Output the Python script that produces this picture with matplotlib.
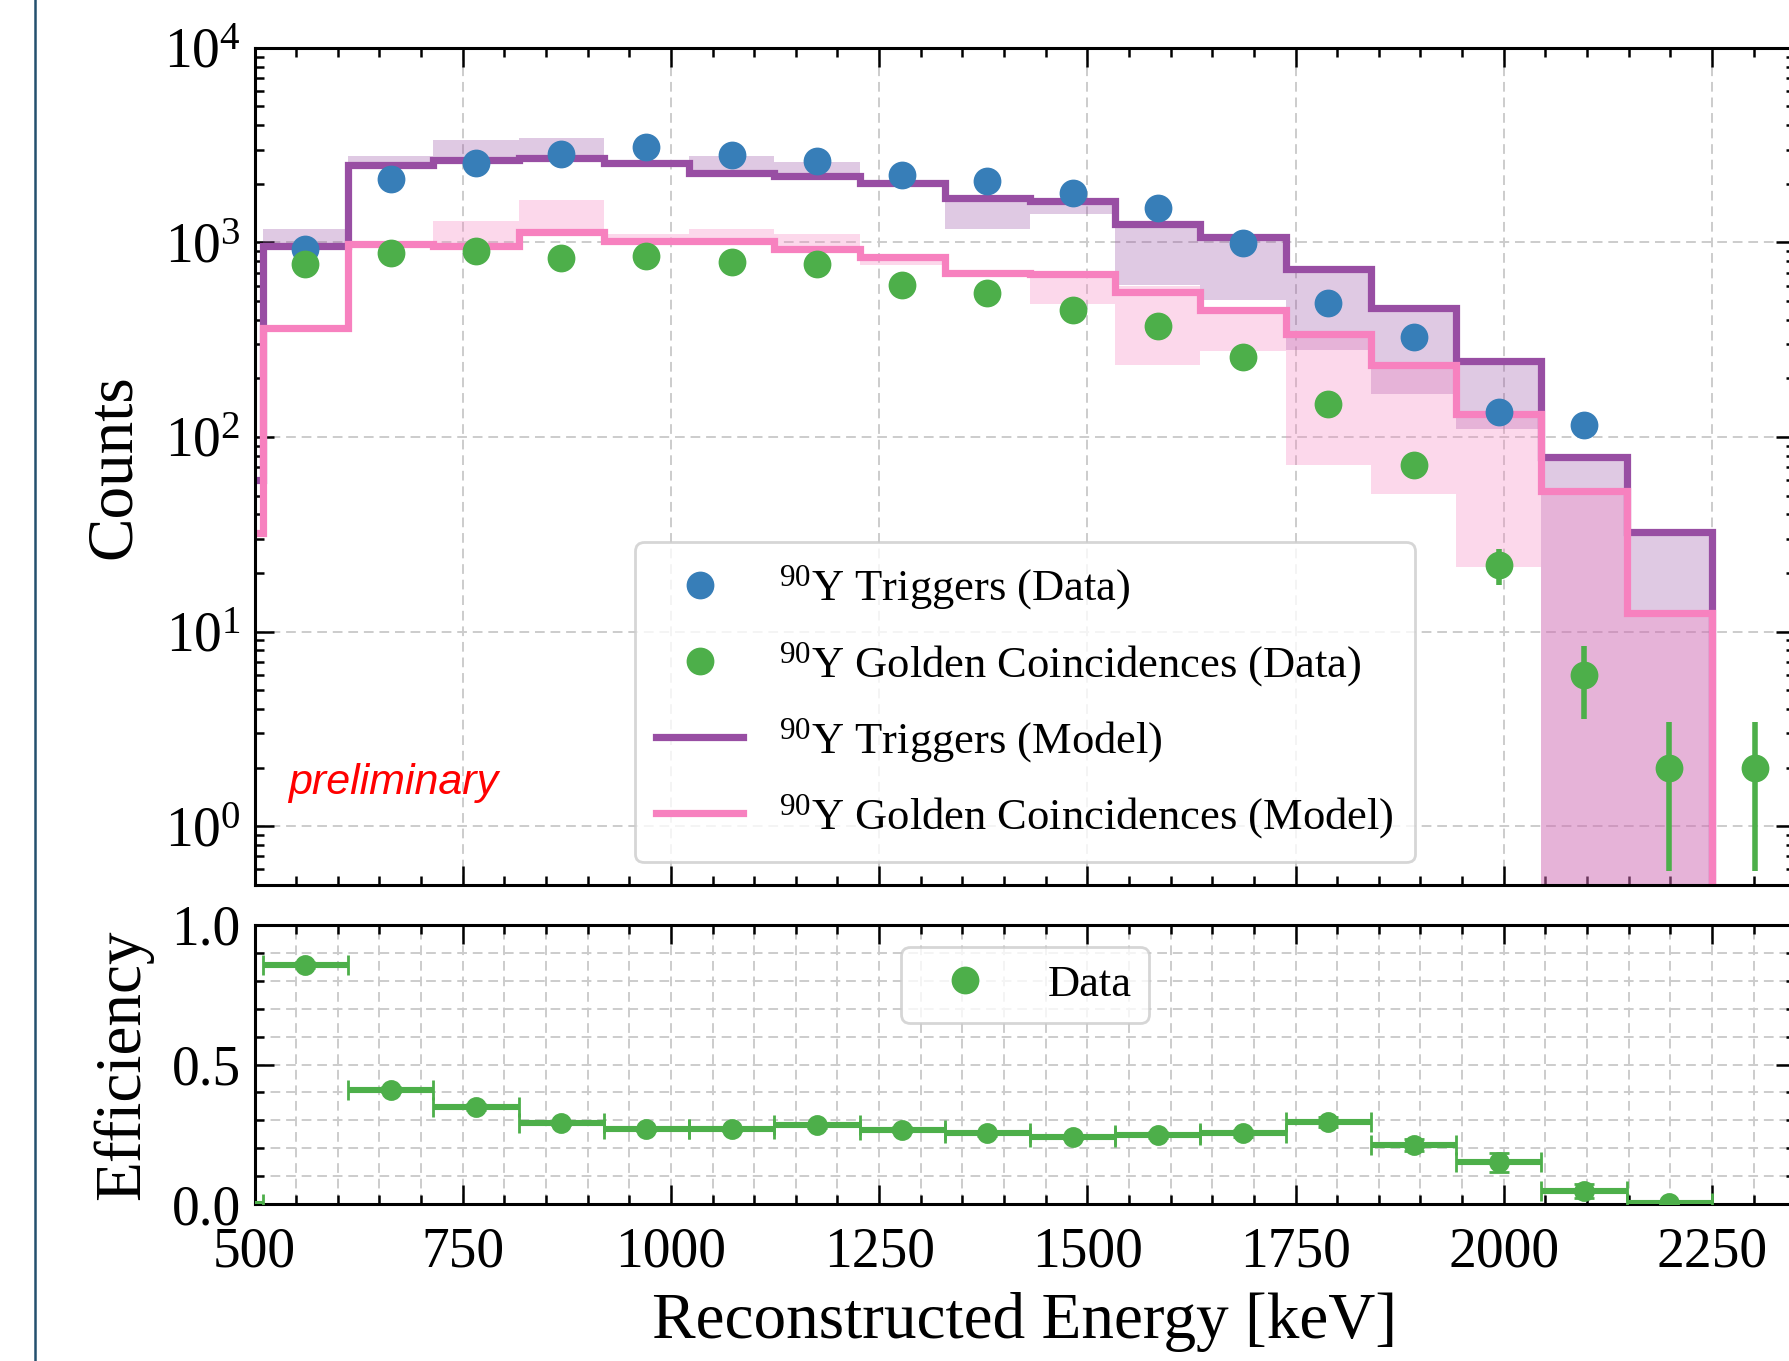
import numpy as np
import matplotlib
matplotlib.use("Agg")
import matplotlib.pyplot as plt
from matplotlib.lines import Line2D
from matplotlib.ticker import MultipleLocator, LogLocator, NullFormatter, FormatStrFormatter

plt.rcParams['font.family'] = ['Liberation Serif', 'DejaVu Serif']
plt.rcParams['mathtext.fontset'] = 'custom'
plt.rcParams['mathtext.rm'] = 'Liberation Serif'
plt.rcParams['mathtext.it'] = 'Liberation Serif:italic'

# 19 bins of ~102 keV, first bin [408, 510] lies left of the plotted range
bin_edges = np.linspace(407.65, 2352.35, 20)
bin_centers = 0.5 * (bin_edges[1:] + bin_edges[:-1])

# data (counts per bin), NaN = empty
trig_data = [np.nan, 924, 2125, 2566, 2857, 3098, 2820, 2636, 2213, 2070, 1786,
             1499, 988, 491, 328, 135, 115, np.nan, np.nan]
gold_data = [np.nan, 776, 887, 899, 830, 852, 797, 776, 601, 547, 447,
             370, 258, 148, 71.8, 22, 6.0, 2.0, 2.0]

# model step histograms
trig_model = [60, 955, 2512, 2655, 2730, 2558, 2265, 2193, 2022, 1701, 1626,
              1238, 1061, 728, 460, 245, 78.5, 32.5, 0]
gold_model = [32, 363, 977, 955, 1131, 1023, 1014, 925, 845, 695, 686,
              554, 448, 340, 234, 131, 52.5, 12.5, 0]

# model uncertainty bands (low, high)
trig_band_lo = [60, 955, 2512, 2655, 2730, 2558, 2265, 2193, 2022, 1172, 1406,
                607, 506, 280, 166, 110, 0, 0, 0]
trig_band_hi = [60, 1170, 2780, 3365, 3450, 2558, 2780, 2595, 2022, 1701, 1626,
                1238, 1061, 728, 460, 245, 78.5, 32.5, 0]
gold_band_lo = [32, 363, 977, 955, 1131, 1023, 1014, 925, 762, 695, 483,
                234, 277, 72, 51, 21.5, 0, 0, 0]
gold_band_hi = [32, 363, 977, 1283, 1648, 1110, 1172, 1110, 845, 695, 686,
                600, 448, 340, 234, 131, 52.5, 12.5, 0]

# efficiency (golden / triggers)
eff = [0.0, 0.855, 0.41, 0.349, 0.290, 0.269, 0.269, 0.282, 0.267, 0.254, 0.240,
       0.247, 0.254, 0.293, 0.211, 0.150, 0.048, 0.005, np.nan]
eff_err = [0.0, 0.01, 0.01, 0.01, 0.008, 0.008, 0.008, 0.008, 0.008, 0.008, 0.008,
           0.01, 0.012, 0.018, 0.022, 0.035, 0.025, 0.005, np.nan]

blue = '#377eb8'
green = '#4daf4a'
purple = '#984ea3'
pink = '#f781bf'

fig = plt.figure(figsize=(8.95, 6.805), dpi=200)
ax = fig.add_axes([0.1422, 0.350, 0.8607, 0.6148])
ax2 = fig.add_axes([0.1422, 0.1151, 0.8607, 0.2055])

# --- top panel: counts
ax.stairs(trig_band_hi, bin_edges, baseline=trig_band_lo, fill=True,
          color=purple, alpha=0.3, lw=0, zorder=1)
ax.stairs(gold_band_hi, bin_edges, baseline=gold_band_lo, fill=True,
          color=pink, alpha=0.3, lw=0, zorder=1)
ax.stairs(trig_model, bin_edges, baseline=None, color=purple, lw=2.6, zorder=2)
ax.stairs(gold_model, bin_edges, baseline=None, color=pink, lw=2.6, zorder=2)

trig_data = np.array(trig_data)
gold_data = np.array(gold_data)
hb = ax.errorbar(bin_centers, trig_data, yerr=np.sqrt(trig_data), fmt='o',
                 color=blue, ms=9, elinewidth=2, capsize=0, zorder=4)
hg = ax.errorbar(bin_centers, gold_data, yerr=np.sqrt(gold_data), fmt='o',
                 color=green, ms=9, elinewidth=2, capsize=0, zorder=4)

h_tm = Line2D([], [], color=purple, lw=2.6)
h_gm = Line2D([], [], color=pink, lw=2.6)
ax.legend([hb[0], hg[0], h_tm, h_gm],
          [r'$^{90}$Y Triggers (Data)', r'$^{90}$Y Golden Coincidences (Data)',
           r'$^{90}$Y Triggers (Model)', r'$^{90}$Y Golden Coincidences (Model)'],
          loc='lower center', fontsize=16, handlelength=1.95, handletextpad=0.8,
          labelspacing=0.62, borderpad=0.48, framealpha=0.8, edgecolor='#cccccc')

ax.set_yscale('log')
ax.set_ylim(0.5, 1e4)
ax.set_xlim(500, 2350)
ax.set_ylabel('Counts', fontsize=23.5)
ax.yaxis.set_label_coords(-0.072, 0.5)
ax.yaxis.set_major_locator(LogLocator(base=10, numticks=10))
ax.yaxis.set_minor_locator(LogLocator(base=10, subs=np.arange(2, 10), numticks=20))
ax.yaxis.set_minor_formatter(NullFormatter())
ax.xaxis.set_major_locator(MultipleLocator(250))
ax.xaxis.set_minor_locator(MultipleLocator(50))
ax.tick_params(labelbottom=False)
ax.grid(True, which='major', ls=(0, (5, 3)), color='#cccccc', lw=0.7)

ax.text(0.022, 0.108, 'preliminary', transform=ax.transAxes, color='red',
        fontsize=15.5, style='italic', family='Liberation Sans', va='baseline')

# --- bottom panel: efficiency
ax2.errorbar(bin_centers, eff, xerr=np.diff(bin_edges) / 2, yerr=eff_err, fmt='o',
             color=green, ms=6.5, elinewidth=2.2, capsize=3.6, capthick=1, zorder=4)
ax2.legend([Line2D([], [], marker='o', ls='', color=green, ms=9)], ['Data'],
           loc='upper center', fontsize=16, handlelength=2.1, handletextpad=0.8,
           framealpha=0.8, edgecolor='#cccccc')
ax2.set_xlim(500, 2350)
ax2.set_ylim(0, 1.0)
ax2.xaxis.set_major_locator(MultipleLocator(250))
ax2.xaxis.set_minor_locator(MultipleLocator(50))
ax2.yaxis.set_major_locator(MultipleLocator(0.5))
ax2.yaxis.set_minor_locator(MultipleLocator(0.1))
ax2.yaxis.set_major_formatter(FormatStrFormatter('%.1f'))
ax2.grid(True, which='both', ls=(0, (5, 3)), color='#cccccc', lw=0.7)
ax2.set_ylabel('Efficiency', fontsize=23.5)
ax2.yaxis.set_label_coords(-0.066, 0.5)
ax2.set_xlabel('Reconstructed Energy [keV]', fontsize=23.5, labelpad=5)

for a in (ax, ax2):
    a.set_axisbelow(True)
    a.tick_params(which='both', direction='in', top=True, right=True,
                  labelsize=20, pad=5)
    a.tick_params(which='major', length=6.8, width=0.9)
    a.tick_params(which='minor', length=3.4, width=0.9)
    for s in a.spines.values():
        s.set_linewidth(1.1)
ax2.tick_params(axis='x', which='both', pad=8)

# dark border line at the left of the slide crop
fig.add_artist(Line2D([0.0193, 0.0193], [0, 1], transform=fig.transFigure,
                      color='#24506e', lw=0.9))

fig.savefig('out.png', dpi=200)
